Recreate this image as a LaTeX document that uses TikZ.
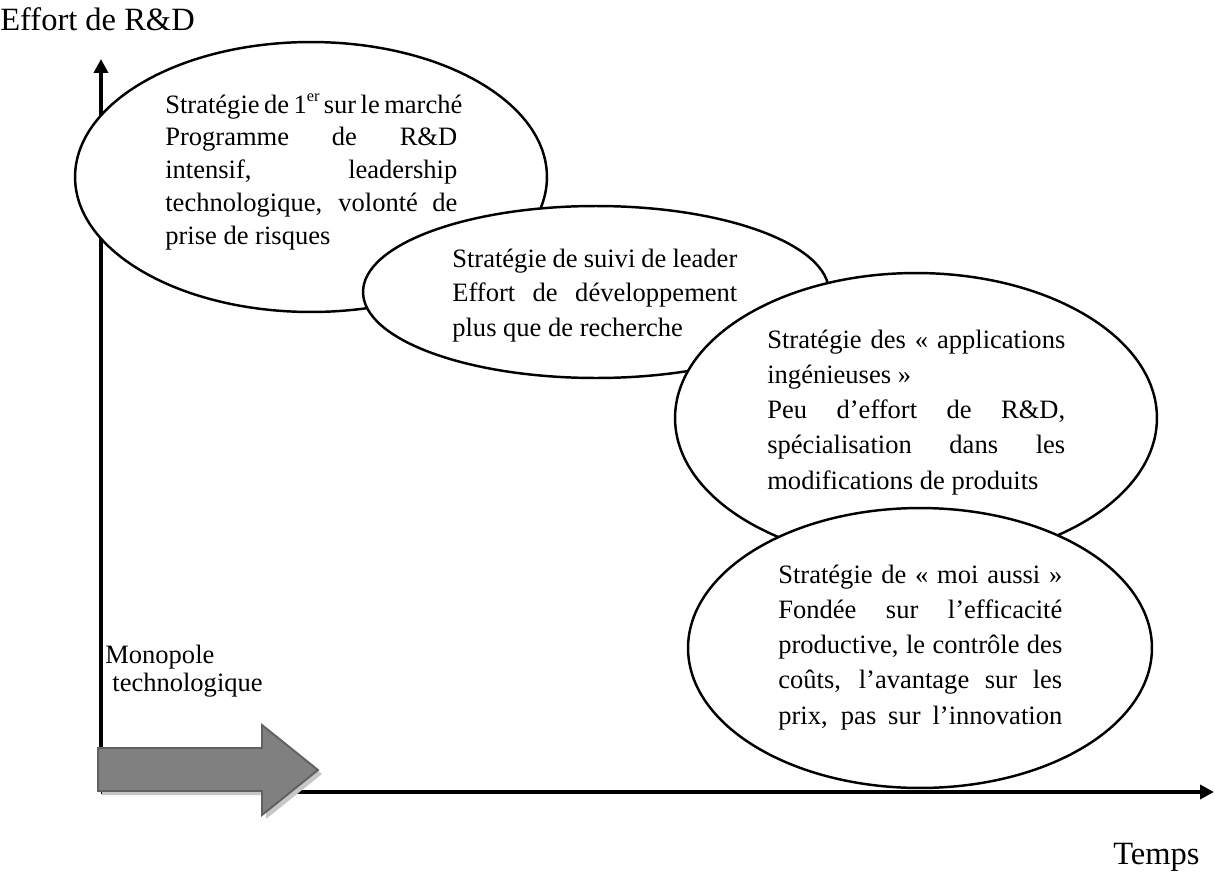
\documentclass[tikz,border=0pt]{standalone}
\usepackage{fontspec}
\setmainfont{Liberation Serif}
\usetikzlibrary{shapes.geometric,arrows.meta}
\newcommand\jl[2]{\makebox[#1][s]{#2}}
\newcommand\rs{\spaceskip=0pt\relax\xspaceskip=0pt\relax}
\newcommand\supr[1]{\raisebox{0.42em}{\fontsize{9.3}{10}\selectfont #1}}
\begin{document}
\begin{tikzpicture}[x=0.02cm,y=-0.02cm,
  oval/.style={ellipse,draw=black,fill=white,line width=1.4pt,inner sep=0pt,outer sep=0pt},
  axis/.style={line width=2.1pt,-{Triangle[length=0.28cm,width=0.28cm]}},
  body/.style={anchor=base west,inner sep=0pt,align=left},
  head/.style={anchor=base west,inner sep=0pt,font=\fontsize{18.5}{22}\selectfont},
  bigarrow/.style={fill=black!50,draw=black!62,line width=1.1pt,line join=miter},
  arrowshadow/.style={fill=black!22}]
\useasboundingbox (0,0) rectangle (1215,872);

% axes
\coordinate (O) at (101,792);
\coordinate (ytop) at (101,59);
\coordinate (xend) at (1214,792);
\draw[axis] (O) -- (ytop);
\draw[axis] (O) -- (xend);

% ellipses
\node[oval,minimum width=9.44cm,minimum height=5.4cm] (e1) at (311,177) {};
\node[oval,minimum width=9.32cm,minimum height=3.44cm] (e2) at (596,292) {};
\node[oval,minimum width=9.64cm,minimum height=5.8cm] (e3) at (916,418) {};
\node[oval,minimum width=9.28cm,minimum height=5.6cm] (e4) at (920,648) {};

% texts
\node[body,text width=6.2cm,font=\fontsize{15.1}{18.7}\selectfont] (t1) at (165,113)
 {\rs\jl{5.84cm}{Stratégie de 1\supr{er} sur le marché}\\
  \jl{5.84cm}{Programme de R\&D}\\
  \jl{5.84cm}{intensif, leadership}\\
  \jl{5.84cm}{technologique, volonté de}\\
  prise de risques};
\node[body,text width=6.0cm,font=\fontsize{15.1}{19.8}\selectfont] (t2) at (452,267)
 {\rs\jl{5.70cm}{Stratégie de suivi de leader}\\
  \jl{5.70cm}{Effort de développement}\\
  plus que de recherche};
\node[body,text width=6.2cm,font=\fontsize{15.1}{20.1}\selectfont] (t3) at (767,348)
 {\rs\jl{5.96cm}{Stratégie des « applications}\\
  ingénieuses »\\
  \jl{5.96cm}{Peu d’effort de R\&D,}\\
  \jl{5.96cm}{spécialisation dans les}\\
  modifications de produits};
\node[body,text width=6.0cm,font=\fontsize{15.1}{20.1}\selectfont] (t4) at (778,583)
 {\rs\jl{5.68cm}{Stratégie de « moi aussi »}\\
  \jl{5.68cm}{Fondée sur l’efficacité}\\
  \jl{5.68cm}{productive, le contrôle des}\\
  \jl{5.68cm}{coûts, l’avantage sur les}\\
  \jl{5.68cm}{prix, pas sur l’innovation}};

\node[body,text width=3.5cm,font=\fontsize{15.1}{16.4}\selectfont] (mono) at (105,663)
 {\rs Monopole\\\hspace*{4pt}technologique};

% block arrow with shadow
\fill[arrowshadow] (102,752) -- (266,752) -- (266,729) -- (322,774) -- (266,819) -- (266,795) -- (102,795) -- cycle;
\draw[bigarrow] (98,748) -- (262,748) -- (262,725) -- (318,770) -- (262,815) -- (262,791) -- (98,791) -- cycle;

% axis labels
\node[head] (ylab) at (0,31) {Effort de R\&D};
\node[head] (xlab) at (1113,864) {Temps};
\end{tikzpicture}
\end{document}
